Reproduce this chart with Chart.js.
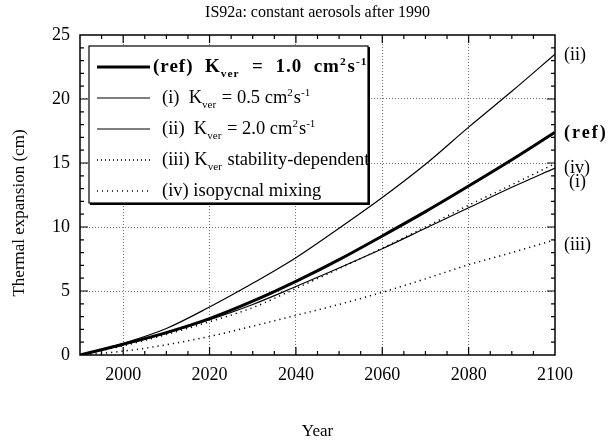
<!DOCTYPE html>
<html>
<head>
<meta charset="utf-8">
<script src="https://cdn.jsdelivr.net/npm/chart.js@4"></script>
<style>
html, body { margin: 0; padding: 0; background: #fff; }
</style>
</head>
<body>
<canvas id="chart" width="611" height="445"></canvas>
<script>
// data (thermal expansion in cm)
var years = [1990, 2000, 2010, 2020, 2030, 2040, 2050, 2060, 2070, 2080, 2090, 2100];
var refVals = [0, 0.84, 1.75, 2.84, 4.2, 5.75, 7.45, 9.3, 11.2, 13.2, 15.25, 17.4];
var iVals   = [0, 0.8, 1.7, 2.75, 3.95, 5.35, 6.8, 8.3, 9.9, 11.5, 13.1, 14.6];
var iiVals  = [0, 0.91, 2.07, 3.75, 5.6, 7.6, 9.9, 12.3, 14.9, 17.8, 20.6, 23.5];
var iiiVals = [0, 0.3, 0.8, 1.45, 2.25, 3.1, 3.95, 4.9, 5.95, 7.05, 8.0, 9.0];
var ivVals  = [0, 0.72, 1.6, 2.6, 3.7, 5.2, 6.75, 8.35, 10.0, 11.7, 13.3, 14.95];

var xTicks = [2000, 2020, 2040, 2060, 2080, 2100];
var yTicks = [0, 5, 10, 15, 20, 25];

var titleText = 'IS92a: constant aerosols after 1990';
var yTitle = 'Thermal expansion (cm)';
var endLabels = ['(ii)', '(ref)', '(iv)', '(i)', '(iii)'];
var endLabelVals = [23.4, 17.3, 14.6, 13.5, 8.6];

var serif = '"Liberation Serif", "Times New Roman", serif';

function pts(vals) {
    return years.map(function (y, i) { return {x: y, y: vals[i]}; });
}

// legend rows: [text, mode] pieces, mode n = normal, b = sub, p = super
var legendRows = [
    {bold: true, dash: [], width: 3, parts: [['(ref)  K', 'n'], ['ver', 'b'], ['  =  1.0  cm', 'n'], ['2', 'p'], ['s', 'n'], ['-1', 'p']]},
    {bold: false, dash: [], width: 1.2, parts: [['(i)  K', 'n'], ['ver', 'b'], [' = 0.5 cm', 'n'], ['2', 'p'], ['s', 'n'], ['-1', 'p']]},
    {bold: false, dash: [], width: 1.2, parts: [['(ii)  K', 'n'], ['ver', 'b'], [' = 2.0 cm', 'n'], ['2', 'p'], ['s', 'n'], ['-1', 'p']]},
    {bold: false, dash: [1, 3], width: 1.3, parts: [['(iii) K', 'n'], ['ver', 'b'], [' stability-dependent', 'n']]},
    {bold: false, dash: [1, 4], width: 1.3, parts: [['(iv) isopycnal mixing', 'n']]}
];

function richText(ctx, parts, x, y, size, bold) {
    var w = bold ? 'bold ' : '';
    parts.forEach(function (p) {
        var s = size, dy = 0;
        if (p[1] === 'b') { s = size * 0.6; dy = 7; }
        if (p[1] === 'p') { s = size * 0.6; dy = -5; }
        ctx.font = w + s + 'px ' + serif;
        ctx.fillText(p[0], x, y + dy);
        x += ctx.measureText(p[0]).width + (p[1] === 'n' ? 0 : 1);
    });
}

var decor = {
    id: 'decor',
    beforeDraw: function (chart) {
        var ctx = chart.ctx;
        ctx.save();
        ctx.fillStyle = '#fff';
        ctx.fillRect(0, 0, chart.width, chart.height);
        ctx.restore();
    },
    afterDatasetsDraw: function (chart) {
        var ctx = chart.ctx, a = chart.chartArea;
        var xs = chart.scales.x, ys = chart.scales.y;
        ctx.save();

        // frame
        ctx.strokeStyle = '#000';
        ctx.lineWidth = 1.5;
        ctx.strokeRect(a.left, a.top, a.right - a.left, a.bottom - a.top);

        // inward ticks on all four sides
        ctx.lineWidth = 1.2;
        ctx.beginPath();
        for (var yr = 1995; yr < 2100; yr += 5) {
            var px = xs.getPixelForValue(yr);
            var len = (yr % 20 === 0) ? 8 : 4;
            ctx.moveTo(px, a.bottom); ctx.lineTo(px, a.bottom - len);
            ctx.moveTo(px, a.top); ctx.lineTo(px, a.top + len);
        }
        for (var v = 1; v < 25; v++) {
            var py = ys.getPixelForValue(v);
            var l2 = (v % 5 === 0) ? 8 : 4;
            ctx.moveTo(a.left, py); ctx.lineTo(a.left + l2, py);
            ctx.moveTo(a.right, py); ctx.lineTo(a.right - l2, py);
        }
        ctx.stroke();

        // legend box
        var bx = 89, by = 46, bw = 279, bh = 157;
        ctx.fillStyle = '#fff';
        ctx.fillRect(bx, by, bw, bh);
        ctx.lineWidth = 1.2;
        ctx.strokeRect(bx, by, bw, bh);
        ctx.lineWidth = 2;
        ctx.beginPath();
        ctx.moveTo(bx + 1, by + bh + 1); ctx.lineTo(bx + bw + 1, by + bh + 1); ctx.lineTo(bx + bw + 1, by + 1);
        ctx.stroke();

        ctx.fillStyle = '#000';
        ctx.textBaseline = 'middle';
        ctx.textAlign = 'left';
        legendRows.forEach(function (r, i) {
            var ry = 67 + i * 31;
            ctx.save();
            ctx.lineWidth = r.width;
            ctx.setLineDash(r.dash);
            ctx.beginPath();
            ctx.moveTo(97, ry); ctx.lineTo(150, ry);
            ctx.stroke();
            ctx.restore();
            ctx.letterSpacing = r.bold ? '1px' : '0px';
            richText(ctx, r.parts, i === 0 ? 153 : 162, ry, r.bold ? 19 : 18.5, r.bold);
            ctx.letterSpacing = '0px';
        });

        // labels at the right end of the curves
        endLabels.forEach(function (t, i) {
            var isRef = t === '(ref)';
            ctx.font = (isRef ? 'bold ' : '') + '18px ' + serif;
            ctx.letterSpacing = isRef ? '2px' : '0px';
            ctx.fillText(t, a.right + 9 + (t === '(i)' ? 5 : 0), ys.getPixelForValue(endLabelVals[i]));
        });
        ctx.letterSpacing = '0px';

        // title over the plot
        ctx.font = '16px ' + serif;
        ctx.textAlign = 'center';
        ctx.fillText(titleText, (a.left + a.right) / 2, 13);

        // y axis title
        ctx.translate(20, 213);
        ctx.rotate(-Math.PI / 2);
        ctx.font = '17px ' + serif;
        ctx.fillText(yTitle, 0, 0);
        ctx.restore();
    }
};

function gridColor(lo, hi) {
    return function (c) {
        var v = c.tick && c.tick.value;
        return (v === lo || v === hi) ? 'rgba(0,0,0,0)' : 'rgba(0,0,0,0.55)';
    };
}

new Chart(document.getElementById('chart'), {
    type: 'line',
    data: {
        datasets: [
            {label: '(ref)', data: pts(refVals), borderColor: '#000', borderWidth: 3},
            {label: '(i)', data: pts(iVals), borderColor: '#000', borderWidth: 1.2},
            {label: '(ii)', data: pts(iiVals), borderColor: '#000', borderWidth: 1.2},
            {label: '(iii)', data: pts(iiiVals), borderColor: '#000', borderWidth: 1.5, borderDash: [1.2, 4]},
            {label: '(iv)', data: pts(ivVals), borderColor: '#000', borderWidth: 1.5, borderDash: [1.2, 4]}
        ]
    },
    options: {
        responsive: false,
        devicePixelRatio: 1,
        animation: false,
        layout: {padding: {top: 35, right: 56, left: 0, bottom: 0}},
        elements: {
            point: {radius: 0},
            line: {cubicInterpolationMode: 'monotone', fill: false}
        },
        plugins: {legend: {display: false}, tooltip: {enabled: false}},
        scales: {
            x: {
                type: 'linear', min: 1990, max: 2100,
                afterBuildTicks: function (s) { s.ticks = xTicks.map(function (v) { return {value: v}; }); },
                afterFit: function (s) { s.height = 90; },
                grid: {color: gridColor(1990, 2100), drawTicks: false, lineWidth: 1},
                border: {display: false, dash: [1, 2]},
                ticks: {padding: 9, color: '#000', font: {family: serif, size: 18}, maxRotation: 0,
                    callback: function (v) { return String(v); }},
                title: {display: true, text: 'Year', color: '#000', font: {family: serif, size: 17}, padding: {top: 0, bottom: 3}}
            },
            y: {
                min: 0, max: 25,
                afterBuildTicks: function (s) { s.ticks = yTicks.map(function (v) { return {value: v}; }); },
                afterFit: function (s) { s.width = 80; },
                grid: {color: gridColor(0, 25), drawTicks: false, lineWidth: 1},
                border: {display: false, dash: [1, 2]},
                ticks: {padding: 10, color: '#000', font: {family: serif, size: 18},
                    callback: function (v) { return String(v); }}
            }
        }
    },
    plugins: [decor]
});
</script>
</body>
</html>
